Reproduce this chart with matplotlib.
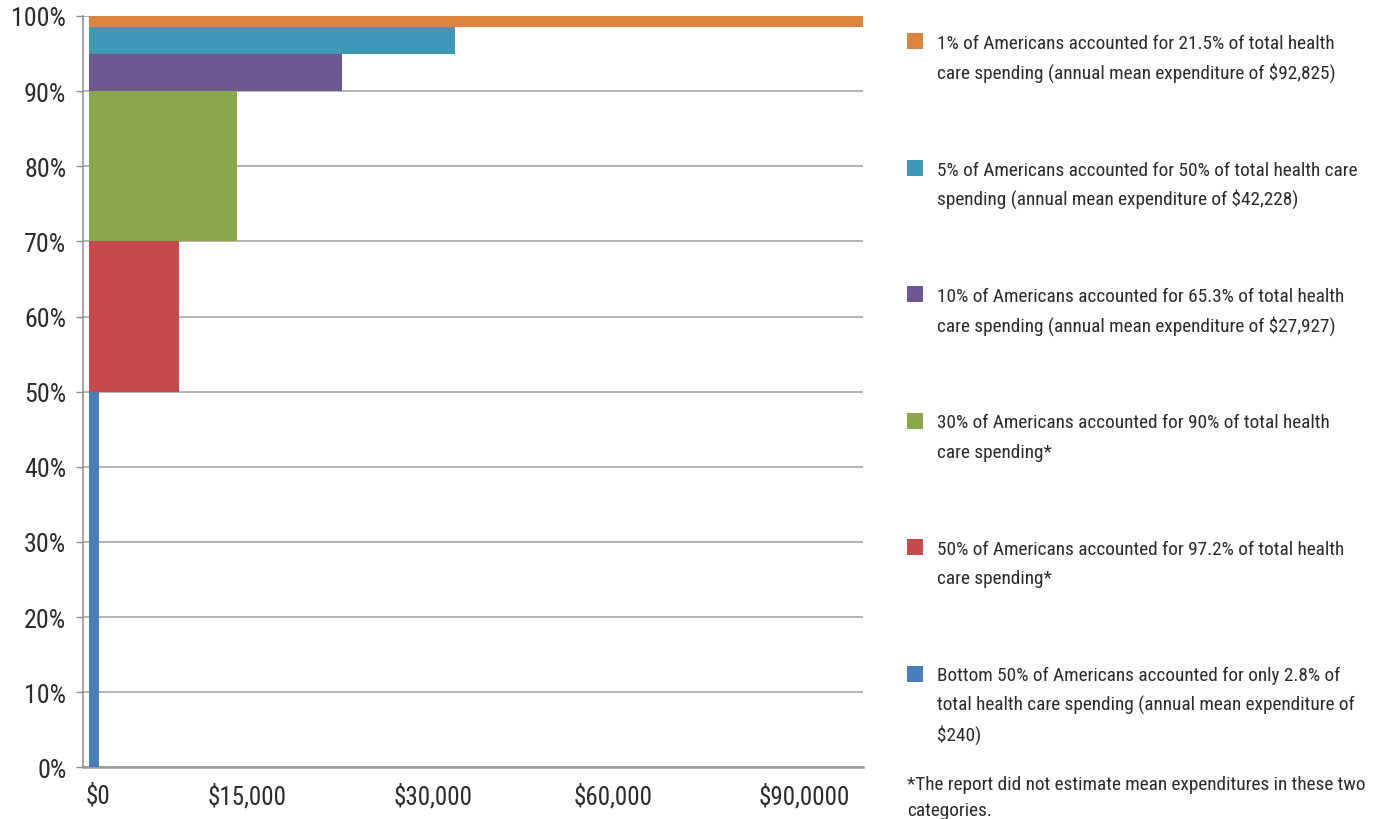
import matplotlib
matplotlib.use("Agg")
import matplotlib.pyplot as plt
from matplotlib import font_manager as fm
from matplotlib.patches import Rectangle

# ---------------- data (bottom to top) ----------------
groups = ["Bottom 50%", "50%", "30%", "10%", "5%", "1%"]
pct_low = [0, 50, 70, 90, 95, 98.5]
pct_high = [50, 70, 90, 95, 98.5, 100]
# bar lengths in the chart's own (non-linear) horizontal units
bar_length = [10, 90, 148, 253, 366, 774]
colors = ["#4A7EBB", "#C44A4D", "#8AA84B", "#6F5892", "#3F98B6", "#D9843F"]

x_tick_pos = [9, 158, 344, 524, 715]
x_tick_labels = ["$0", "$15,000", "$30,000", "$60,000", "$90,0000"]
y_ticks = [0, 10, 20, 30, 40, 50, 60, 70, 80, 90, 100]
y_tick_labels = [f"{v}%" for v in y_ticks]

# legend, top to bottom
legend_labels = [
    "1% of Americans accounted for 21.5% of total health\ncare spending (annual mean expenditure of $92,825)",
    "5% of Americans accounted for 50% of total health care\nspending (annual mean expenditure of $42,228)",
    "10% of Americans accounted for 65.3% of total health\ncare spending (annual mean expenditure of $27,927)",
    "30% of Americans accounted for 90% of total health\ncare spending*",
    "50% of Americans accounted for 97.2% of total health\ncare spending*",
    "Bottom 50% of Americans accounted for only 2.8% of\ntotal health care spending (annual mean expenditure of\n$240)",
]
legend_colors = colors[::-1]
footnote = "*The report did not estimate mean expenditures in these two\ncategories."

# ---------------- font: prefer a narrow / condensed face if one is installed ----------------
FAMILY, STRETCH = "DejaVu Sans", "normal"
_pref = []
for f in fm.fontManager.ttflist:
    nm = f.name
    narrow = ("Narrow" in nm or "Condensed" in nm or
              str(f.stretch) in ("condensed", "semi-condensed", "extra-condensed") or
              (isinstance(f.stretch, int) and f.stretch < 500))
    if narrow and f.style == "normal" and f.weight in (400, "normal", "regular"):
        rank = 0 if "Liberation" in nm else 1 if "Roboto" in nm else 2 if "Open" in nm else 3
        _pref.append((rank, nm, f.stretch))
if _pref:
    _pref.sort(key=lambda t: t[0])
    FAMILY, STRETCH = _pref[0][1], _pref[0][2]

plt.rcParams["font.family"] = [FAMILY, "DejaVu Sans"]
plt.rcParams["font.stretch"] = STRETCH
TEXT = "#2b2b2b"
GRID = "#a8a8a8"
W, H = 1373, 820

fig = plt.figure(figsize=(W / 100, H / 100), dpi=100)
renderer = fig.canvas.get_renderer()


def fit_size(s, target_px, ref=20):
    t = fig.text(0, 0, s.replace("$", r"\$"), fontsize=ref)
    w = t.get_window_extent(renderer).width
    t.remove()
    return ref * target_px / w


def fx(x):
    return x / W


def fy(y):
    return 1 - y / H


ax_left, ax_right, ax_top, ax_bottom = 83, 863, 17, 768.3
ax = fig.add_axes([fx(ax_left), fy(ax_bottom), (ax_right - ax_left) / W, (ax_bottom - ax_top) / H])

ax.barh(pct_low, bar_length, height=[h - l for l, h in zip(pct_low, pct_high)],
        left=0, align="edge", color=colors, edgecolor="none", zorder=3)

ax.set_xlim(-6, 774)
ax.set_ylim(0, 100)

ax.set_yticks(y_ticks)
ysz = fit_size("100%", 55)
ax.set_yticklabels(y_tick_labels, fontsize=ysz, color=TEXT)
ax.set_xticks(x_tick_pos)
xsz = fit_size("$15,000", 79)
ax.set_xticklabels([s.replace("$", r"\$") for s in x_tick_labels], fontsize=xsz, color=TEXT)

ax.tick_params(axis="y", length=5, width=1.0, color="#8c8c8c", pad=7)
ax.tick_params(axis="x", length=0, pad=11)

ax.yaxis.grid(True, color=GRID, linewidth=1.2, zorder=0)
ax.xaxis.grid(False)
ax.set_axisbelow(True)

for side in ("top", "right"):
    ax.spines[side].set_visible(False)
ax.spines["left"].set_color("#8c8c8c")
ax.spines["left"].set_linewidth(1.1)
ax.spines["bottom"].set_color("#9a9a9a")
ax.spines["bottom"].set_linewidth(1.8)

# ---------------- legend ----------------
lsz = fit_size("1% of Americans accounted for 21.5% of total health", 398)
first_baseline = 49
item_step = 126.5
line_step = 29.5
marker_x, marker_size, text_x = 907, 16, 937
for i, (lab, col) in enumerate(zip(legend_labels, legend_colors)):
    base = first_baseline + i * item_step
    fig.add_artist(Rectangle((fx(marker_x), fy(base + 1)), marker_size / W, marker_size / H,
                             transform=fig.transFigure, facecolor=col, edgecolor="none"))
    for j, line in enumerate(lab.split("\n")):
        fig.text(fx(text_x), fy(base + j * line_step), line.replace("$", r"\$"),
                 fontsize=lsz, color=TEXT, va="baseline", ha="left")

for j, line in enumerate(footnote.split("\n")):
    fig.text(fx(907), fy(790 + j * 26), line, fontsize=lsz, color=TEXT, va="baseline", ha="left")

fig.savefig("out.png", dpi=100)
